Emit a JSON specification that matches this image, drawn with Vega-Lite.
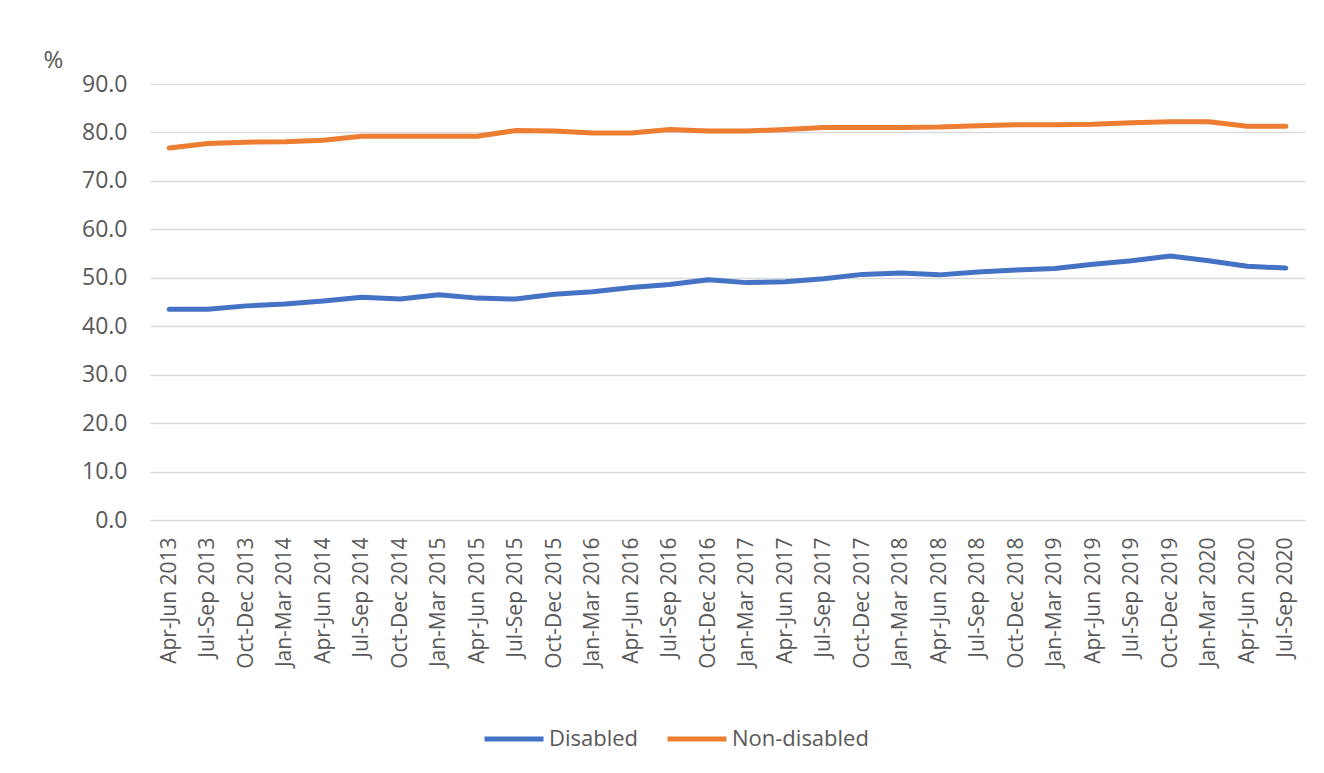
{
  "$schema": "https://vega.github.io/schema/vega-lite/v6.json",
  "width": 1155,
  "height": 436,
  "autosize": {"type": "none"},
  "padding": {"left": 150, "top": 84, "right": 19, "bottom": 253},
  "background": "white",
  "config": {"view": {"stroke": null}, "font": "Open Sans"},
  "data": {
    "values": [
      {"quarter": "Apr-Jun 2013", "series": "Disabled", "value": 43.5},
      {"quarter": "Jul-Sep 2013", "series": "Disabled", "value": 43.5},
      {"quarter": "Oct-Dec 2013", "series": "Disabled", "value": 44.2},
      {"quarter": "Jan-Mar 2014", "series": "Disabled", "value": 44.6},
      {"quarter": "Apr-Jun 2014", "series": "Disabled", "value": 45.2},
      {"quarter": "Jul-Sep 2014", "series": "Disabled", "value": 46.0},
      {"quarter": "Oct-Dec 2014", "series": "Disabled", "value": 45.6},
      {"quarter": "Jan-Mar 2015", "series": "Disabled", "value": 46.5},
      {"quarter": "Apr-Jun 2015", "series": "Disabled", "value": 45.8},
      {"quarter": "Jul-Sep 2015", "series": "Disabled", "value": 45.6},
      {"quarter": "Oct-Dec 2015", "series": "Disabled", "value": 46.6},
      {"quarter": "Jan-Mar 2016", "series": "Disabled", "value": 47.1},
      {"quarter": "Apr-Jun 2016", "series": "Disabled", "value": 48.0},
      {"quarter": "Jul-Sep 2016", "series": "Disabled", "value": 48.6},
      {"quarter": "Oct-Dec 2016", "series": "Disabled", "value": 49.6},
      {"quarter": "Jan-Mar 2017", "series": "Disabled", "value": 49.0},
      {"quarter": "Apr-Jun 2017", "series": "Disabled", "value": 49.2},
      {"quarter": "Jul-Sep 2017", "series": "Disabled", "value": 49.8},
      {"quarter": "Oct-Dec 2017", "series": "Disabled", "value": 50.7},
      {"quarter": "Jan-Mar 2018", "series": "Disabled", "value": 51.0},
      {"quarter": "Apr-Jun 2018", "series": "Disabled", "value": 50.6},
      {"quarter": "Jul-Sep 2018", "series": "Disabled", "value": 51.2},
      {"quarter": "Oct-Dec 2018", "series": "Disabled", "value": 51.6},
      {"quarter": "Jan-Mar 2019", "series": "Disabled", "value": 51.9},
      {"quarter": "Apr-Jun 2019", "series": "Disabled", "value": 52.8},
      {"quarter": "Jul-Sep 2019", "series": "Disabled", "value": 53.5},
      {"quarter": "Oct-Dec 2019", "series": "Disabled", "value": 54.5},
      {"quarter": "Jan-Mar 2020", "series": "Disabled", "value": 53.5},
      {"quarter": "Apr-Jun 2020", "series": "Disabled", "value": 52.4},
      {"quarter": "Jul-Sep 2020", "series": "Disabled", "value": 52.0},
      {"quarter": "Apr-Jun 2013", "series": "Non-disabled", "value": 76.8},
      {"quarter": "Jul-Sep 2013", "series": "Non-disabled", "value": 77.7},
      {"quarter": "Oct-Dec 2013", "series": "Non-disabled", "value": 78.0},
      {"quarter": "Jan-Mar 2014", "series": "Non-disabled", "value": 78.1},
      {"quarter": "Apr-Jun 2014", "series": "Non-disabled", "value": 78.4},
      {"quarter": "Jul-Sep 2014", "series": "Non-disabled", "value": 79.2},
      {"quarter": "Oct-Dec 2014", "series": "Non-disabled", "value": 79.2},
      {"quarter": "Jan-Mar 2015", "series": "Non-disabled", "value": 79.2},
      {"quarter": "Apr-Jun 2015", "series": "Non-disabled", "value": 79.2},
      {"quarter": "Jul-Sep 2015", "series": "Non-disabled", "value": 80.4},
      {"quarter": "Oct-Dec 2015", "series": "Non-disabled", "value": 80.3},
      {"quarter": "Jan-Mar 2016", "series": "Non-disabled", "value": 79.9},
      {"quarter": "Apr-Jun 2016", "series": "Non-disabled", "value": 79.9},
      {"quarter": "Jul-Sep 2016", "series": "Non-disabled", "value": 80.6},
      {"quarter": "Oct-Dec 2016", "series": "Non-disabled", "value": 80.3},
      {"quarter": "Jan-Mar 2017", "series": "Non-disabled", "value": 80.3},
      {"quarter": "Apr-Jun 2017", "series": "Non-disabled", "value": 80.6},
      {"quarter": "Jul-Sep 2017", "series": "Non-disabled", "value": 81.0},
      {"quarter": "Oct-Dec 2017", "series": "Non-disabled", "value": 81.0},
      {"quarter": "Jan-Mar 2018", "series": "Non-disabled", "value": 81.0},
      {"quarter": "Apr-Jun 2018", "series": "Non-disabled", "value": 81.1},
      {"quarter": "Jul-Sep 2018", "series": "Non-disabled", "value": 81.4},
      {"quarter": "Oct-Dec 2018", "series": "Non-disabled", "value": 81.6},
      {"quarter": "Jan-Mar 2019", "series": "Non-disabled", "value": 81.6},
      {"quarter": "Apr-Jun 2019", "series": "Non-disabled", "value": 81.7},
      {"quarter": "Jul-Sep 2019", "series": "Non-disabled", "value": 82.0},
      {"quarter": "Oct-Dec 2019", "series": "Non-disabled", "value": 82.2},
      {"quarter": "Jan-Mar 2020", "series": "Non-disabled", "value": 82.2},
      {"quarter": "Apr-Jun 2020", "series": "Non-disabled", "value": 81.3},
      {"quarter": "Jul-Sep 2020", "series": "Non-disabled", "value": 81.3}
    ]
  },
  "mark": {"type": "line", "strokeWidth": 5, "strokeCap": "round", "strokeJoin": "round"},
  "encoding": {
    "x": {
      "field": "quarter",
      "type": "ordinal",
      "sort": null,
      "axis": {
        "title": null,
        "labelAngle": -90,
        "labelFontSize": 21,
        "labelColor": "#595959",
        "labelFont": "Open Sans",
        "ticks": false,
        "domain": false,
        "grid": false,
        "labelPadding": 17
      }
    },
    "y": {
      "field": "value",
      "type": "quantitative",
      "scale": {"domain": [0, 90]},
      "axis": {
        "values": [0, 10, 20, 30, 40, 50, 60, 70, 80, 90],
        "format": ".1f",
        "title": "%",
        "titleAngle": 0,
        "titleAlign": "left",
        "titleBaseline": "alphabetic",
        "titleX": -107,
        "titleY": -17,
        "titleFontSize": 24,
        "titleFontWeight": "normal",
        "titleColor": "#595959",
        "titleFont": "Open Sans",
        "labelFontSize": 23,
        "labelColor": "#595959",
        "labelFont": "Open Sans",
        "ticks": false,
        "domain": false,
        "gridColor": "#d9d9d9",
        "gridWidth": 1.5,
        "labelPadding": 23
      }
    },
    "color": {
      "field": "series",
      "type": "nominal",
      "scale": {"domain": ["Disabled", "Non-disabled"], "range": ["#4472C4", "#ED7D31"]},
      "legend": {
        "title": null,
        "orient": "none",
        "legendX": 332,
        "legendY": 623,
        "direction": "horizontal",
        "symbolType": "stroke",
        "symbolSize": 3481,
        "symbolStrokeWidth": 5,
        "labelFontSize": 22,
        "labelColor": "#595959",
        "labelFont": "Open Sans",
        "labelOffset": 3,
        "columnPadding": 18,
        "padding": 0
      }
    }
  }
}
